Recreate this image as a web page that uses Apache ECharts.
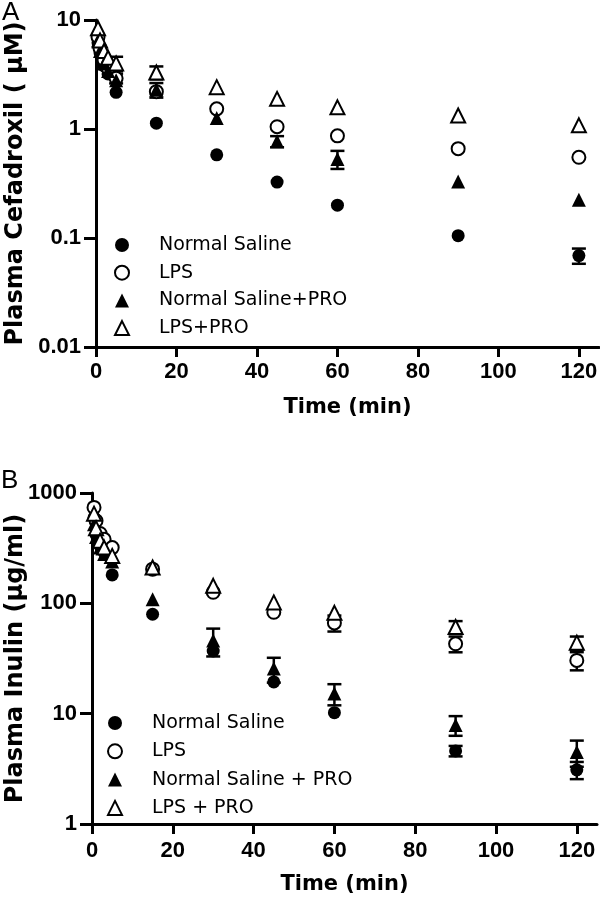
<!DOCTYPE html>
<html><head><meta charset="utf-8">
<script src="https://cdn.jsdelivr.net/npm/echarts@6/dist/echarts.min.js"></script>
<style>html,body{margin:0;padding:0;background:#fff}#c{width:600px;height:905px}</style>
</head><body><div id="c"></div>
<script>
// ---- shared ----
const times = [0.5, 1, 2, 3, 5, 15, 30, 45, 60, 90, 120];
const xTicks = [0, 20, 40, 60, 80, 100, 120];

// ---- Panel A: Plasma Cefadroxil (uM) ----
const namesA = ['Normal Saline', 'LPS', 'Normal Saline+PRO', 'LPS+PRO'];
const nsA     = [6.2, 5.0, 3.8, 3.2, 2.17, 1.13, 0.58, 0.326, 0.20, 0.105, 0.069];
const lpsA    = [7.0, 5.5, 4.3, 3.6, 2.92, 2.2, 1.53, 1.05, 0.865, 0.66, 0.55];
const nsProA  = [6.5, 5.2, 4.0, 3.4, 2.8, 2.29, 1.26, 0.77, 0.53, 0.33, 0.224];
const lpsProA = [8.4, 6.5, 5.2, 4.5, 4.0, 3.3, 2.42, 1.89, 1.58, 1.33, 1.08];
const nsErrA     = [0, 0, 0, 0, 0, 0, 0, 0, 0, 0, 0.011];
const lpsErrA    = [0, 0, 0, 0, 0.3, 0, 0, 0, 0, 0, 0];
const nsProErrA  = [0, 0, 0, 0, 0, 0.35, 0, 0.09, 0.1, 0, 0];
const lpsProErrA = [0, 0, 0, 0, 0.6, 0.45, 0, 0, 0, 0, 0];

// ---- Panel B: Plasma Inulin (ug/ml) ----
const namesB = ['Normal Saline', 'LPS', 'Normal Saline + PRO', 'LPS + PRO'];
const nsB     = [600, 420, 330, 290, 181, 79.6, 37, 19.4, 10.2, 4.6, 3.1];
const lpsB    = [740, 560, 430, 380, 320, 204, 126, 83, 66.5, 43, 30.4];
const nsProB  = [520, 400, 320, 280, 240, 109, 46, 25.6, 15.2, 7.9, 4.5];
const lpsProB = [650, 480, 370, 320, 269, 211, 144, 102, 82, 61, 44];
const nsErrB     = [0, 0, 0, 0, 0, 0, 0, 0, 0, 0.5, 0.55];
const lpsErrB    = [0, 0, 0, 0, 0, 0, 0, 0, 11, 7, 5.7];
const nsProErrB  = [0, 0, 0, 0, 0, 0, 13, 6.5, 3.3, 1.6, 1.2];
const lpsProErrB = [0, 0, 0, 0, 0, 0, 0, 0, 0, 8, 6];

const FONT = '"Liberation Sans", Arial, sans-serif';
const WIDE = '"DejaVu Sans", sans-serif';

function pts(v) { return times.map((t, i) => [t, v[i]]); }
function errData(v, e) {
  const out = [];
  for (let i = 0; i < times.length; i++) if (e[i] > 0) out.push([times[i], v[i] - e[i], v[i] + e[i]]);
  return out;
}
function renderErr(params, api) {
  const x = api.value(0);
  const lo = api.coord([x, api.value(1)]);
  const hi = api.coord([x, api.value(2)]);
  const hw = 7;
  const st = { stroke: '#000', lineWidth: 2.5 };
  return { type: 'group', children: [
    { type: 'line', shape: { x1: hi[0], y1: hi[1], x2: lo[0], y2: lo[1] }, style: st },
    { type: 'line', shape: { x1: hi[0] - hw, y1: hi[1], x2: hi[0] + hw, y2: hi[1] }, style: st },
    { type: 'line', shape: { x1: lo[0] - hw, y1: lo[1], x2: lo[0] + hw, y2: lo[1] }, style: st }
  ]};
}
const symbols = [
  { symbol: 'circle', size: 13 },
  { symbol: 'emptyCircle', size: 13 },
  { symbol: 'triangle', size: 14 },
  { symbol: 'emptyTriangle', size: 14 }
];
function panelSeries(idx, names, vals, errs) {
  const s = [];
  vals.forEach((v, k) => {
    s.push({ type: 'custom', xAxisIndex: idx, yAxisIndex: idx, renderItem: renderErr,
      encode: { x: 0, y: [1, 2] }, data: errData(v, errs[k]), z: 1, silent: true });
  });
  vals.forEach((v, k) => {
    s.push({ type: 'scatter', name: names[k], xAxisIndex: idx, yAxisIndex: idx,
      symbol: symbols[k].symbol, symbolSize: symbols[k].size,
      itemStyle: { color: '#000', borderColor: '#000', borderWidth: k % 2 === 1 ? 2.5 : 0, opacity: 1 },
      data: pts(v), z: 2 + k });
  });
  return s;
}

const axisLineStyle = { lineStyle: { color: '#000', width: 3 } };
function xAxis(idx, margin) {
  return { type: 'value', gridIndex: idx, min: 0, max: 125,
    name: 'Time (min)', nameLocation: 'middle', nameGap: 50, nameMoveOverlap: false,
    nameTextStyle: { fontFamily: WIDE, fontWeight: 'bold', fontSize: 21, color: '#000' },
    axisLine: axisLineStyle,
    axisTick: { show: true, length: 10, lineStyle: { color: '#000', width: 3 }, customValues: xTicks },
    axisLabel: { fontFamily: FONT, fontWeight: 'bold', fontSize: 22, color: '#000', margin: margin, customValues: xTicks },
    splitLine: { show: false } };
}
function yAxis(idx, min, max, name, gap) {
  return { type: 'log', logBase: 10, gridIndex: idx, min: min, max: max,
    name: name, nameLocation: 'middle', nameGap: gap, nameMoveOverlap: false,
    nameTextStyle: { fontFamily: WIDE, fontWeight: 'bold', fontSize: 24, color: '#000' },
    axisLine: axisLineStyle,
    axisTick: { show: true, length: 12, lineStyle: { color: '#000', width: 3 } },
    axisLabel: { fontFamily: FONT, fontWeight: 'bold', fontSize: 22, color: '#000', margin: 15,
      formatter: v => String(+Number(v).toPrecision(4)) },
    minorTick: { show: false },
    splitLine: { show: false } };
}
function legend(names, left, top, gap) {
  return { data: names, orient: 'vertical', left: left, top: top, padding: 0,
    itemWidth: 14, itemHeight: 14, itemGap: gap, selectedMode: false,
    formatter: n => '{p|}' + n,
    textStyle: { fontFamily: WIDE, fontSize: 19, color: '#000', lineHeight: 20,
      rich: { p: { width: 25, lineHeight: 20 } } } };
}

const chart = echarts.init(document.getElementById('c'), null, { renderer: 'canvas' });
chart.setOption({
  animation: false,
  backgroundColor: '#fff',
  grid: [
    { left: 96, right: 1, top: 20, height: 327, outerBoundsMode: 'none', containLabel: false },
    { left: 92, right: 3, top: 493, height: 331, outerBoundsMode: 'none', containLabel: false }
  ],
  xAxis: [xAxis(0, 14), xAxis(1, 16)],
  yAxis: [yAxis(0, 0.01, 10, 'Plasma Cefadroxil ( μM)', 68),
          yAxis(1, 1, 1000, 'Plasma Inulin (μg/ml)', 64)],
  legend: [legend(namesA, 114, 235, 7.7), legend(namesB, 107, 713, 8.3)],
  graphic: [
    { type: 'text', left: 2, top: 0, style: { text: 'A', fontFamily: FONT, fontSize: 26, fill: '#000' } },
    { type: 'text', left: 1, top: 468, style: { text: 'B', fontFamily: FONT, fontSize: 26, fill: '#000' } }
  ],
  series: [].concat(
    panelSeries(0, namesA, [nsA, lpsA, nsProA, lpsProA], [nsErrA, lpsErrA, nsProErrA, lpsProErrA]),
    panelSeries(1, namesB, [nsB, lpsB, nsProB, lpsProB], [nsErrB, lpsErrB, nsProErrB, lpsProErrB])
  )
});
</script></body></html>
